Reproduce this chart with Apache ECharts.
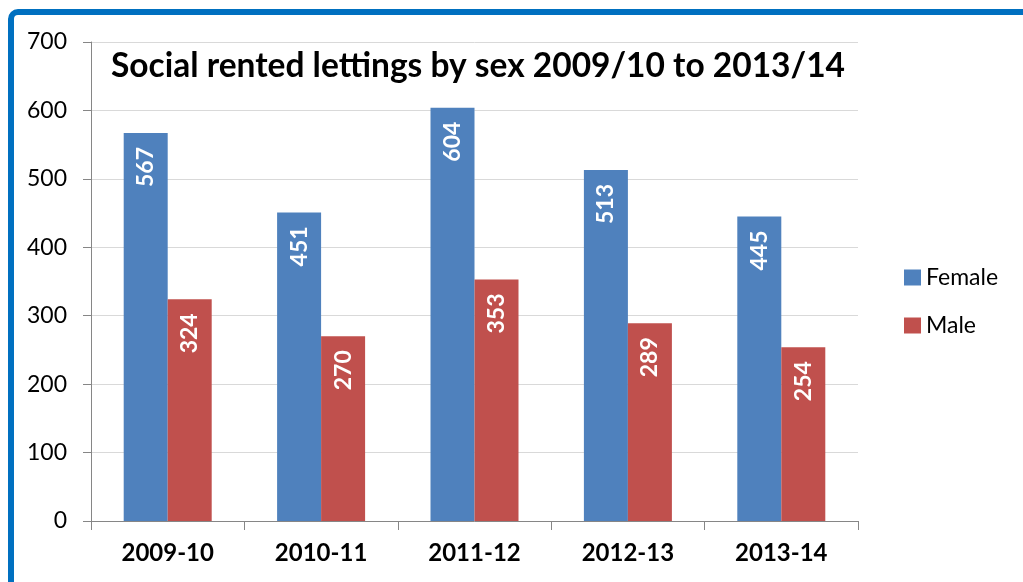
<!doctype html>
<html>
    <head>
        <meta charset="utf-8">
        <title>Social rented lettings by sex</title>
        <style>
            html, body { margin: 0; padding: 0; background: #fff; }
            #main { width: 1023px; height: 582px; }
        </style>
    </head>
    <body>
        <div id="main"></div>
        <script src="https://cdn.jsdelivr.net/npm/echarts@6/dist/echarts.min.js"></script>
        <script>
            var years = ['2009-10', '2010-11', '2011-12', '2012-13', '2013-14'];
            var female = [567, 451, 604, 513, 445];
            var male = [324, 270, 353, 289, 254];
            var yTicks = [0, 100, 200, 300, 400, 500, 600, 700];

            var myChart = echarts.init(document.getElementById('main'));

            var barLabel = {
                show: true,
                position: 'insideTop',
                rotate: 90,
                align: 'right',
                verticalAlign: 'middle',
                distance: 14,
                color: '#fff',
                fontFamily: 'Lato',
                fontWeight: 'bold',
                fontSize: 23
            };

            myChart.setOption({
                animation: false,
                textStyle: { fontFamily: 'Lato' },
                title: {
                    text: 'Social rented lettings by sex 2009/10 to 2013/14',
                    left: 106,
                    top: 44,
                    textStyle: { fontFamily: 'Lato', fontWeight: 'bold', fontSize: 33.5, color: '#000' }
                },
                graphic: [{
                    type: 'rect',
                    shape: { x: 11, y: 12, width: 1100, height: 700, r: 7 },
                    style: { fill: 'none', stroke: '#0070c0', lineWidth: 6 },
                    silent: true
                }],
                legend: {
                    orient: 'vertical',
                    left: 899,
                    top: 261,
                    icon: 'rect',
                    itemWidth: 17,
                    itemHeight: 16,
                    itemGap: 25,
                    textStyle: { fontFamily: 'Lato', fontSize: 23, color: '#000' },
                    data: ['Female', 'Male']
                },
                grid: { left: 91, right: 165, top: 42, bottom: 61 },
                xAxis: {
                    type: 'category',
                    data: years,
                    axisLine: { lineStyle: { color: '#868686' } },
                    axisTick: { show: true, length: 9, lineStyle: { color: '#868686' } },
                    axisLabel: { margin: 20, fontFamily: 'Lato', fontWeight: 'bold', fontSize: 24, color: '#000' }
                },
                yAxis: {
                    type: 'value',
                    min: yTicks[0],
                    max: yTicks[yTicks.length - 1],
                    interval: 100,
                    axisLine: { show: true, lineStyle: { color: '#868686' } },
                    axisTick: { show: true, length: 8, lineStyle: { color: '#868686' } },
                    axisLabel: { margin: 24, fontFamily: 'Lato', fontSize: 23, color: '#000' },
                    splitLine: { lineStyle: { color: '#d9d9d9' } }
                },
                series: [{
                    name: 'Female',
                    type: 'bar',
                    data: female,
                    barWidth: 44,
                    barGap: '0%',
                    itemStyle: { color: '#4f81bd' },
                    label: barLabel
                }, {
                    name: 'Male',
                    type: 'bar',
                    data: male,
                    barWidth: 44,
                    itemStyle: { color: '#c0504d' },
                    label: barLabel
                }]
            });
        </script>
    </body>
</html>
